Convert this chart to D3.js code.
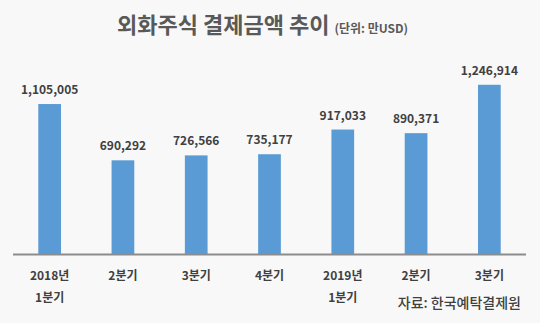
<!DOCTYPE html>
<html><head><meta charset="utf-8">
<script src="https://cdn.jsdelivr.net/npm/d3@7"></script>
<style>
html,body{margin:0;padding:0;background:#f8f8f8;}
svg{display:block;}
text{font-family:"Noto Sans CJK KR","Noto Sans",sans-serif;}
</style></head>
<body>
<script>
const categories = ["2018년|1분기","2분기","3분기","4분기","2019년|1분기","2분기","3분기"];
const values = [1105005, 690292, 726566, 735177, 917033, 890371, 1246914];
const title = "외화주식 결제금액 추이";
const unit = "(단위: 만USD)";
const source = "자료: 한국예탁결제원";

const W = 540, H = 323;
const svg = d3.select("body").append("svg").attr("width", W).attr("height", H);
svg.append("rect").attr("width", W).attr("height", H).attr("fill", "#f8f8f8");

const x = d3.scaleBand().domain(d3.range(categories.length)).range([13, 526]).paddingInner(0.69).paddingOuter(0.345);
const y = d3.scaleLinear().domain([0, 1400000]).range([254, 64]);

const t = svg.append("text").attr("x", 117).attr("y", 33).attr("fill", "#595959");
t.append("tspan").attr("font-size", 22).attr("font-weight", "bold").text(title);
t.append("tspan").attr("dx", 5).attr("font-size", 12).attr("font-weight", "bold").text(unit);

svg.selectAll("rect.bar").data(values).join("rect").attr("class", "bar")
  .attr("x", (d, i) => x(i)).attr("width", x.bandwidth())
  .attr("y", d => y(d)).attr("height", d => y(0) - y(d))
  .attr("fill", "#5b9bd5");

svg.selectAll("text.val").data(values).join("text").attr("class", "val")
  .attr("x", (d, i) => x(i) + x.bandwidth() / 2).attr("y", d => y(d) - 10)
  .attr("text-anchor", "middle").attr("font-size", 12).attr("font-weight", "bold")
  .attr("fill", "#404040").text(d3.format(","));

svg.append("line").attr("x1", 13).attr("x2", 526).attr("y1", y(0) + 0.5).attr("y2", y(0) + 0.5)
  .attr("stroke", "#8c8c8c").attr("stroke-width", 1.8);

categories.forEach((c, i) => {
  const lines = c.split("|");
  lines.forEach((l, j) => {
    svg.append("text").attr("x", x(i) + x.bandwidth() / 2).attr("y", 280 + j * 22)
      .attr("text-anchor", "middle").attr("font-size", 12).attr("font-weight", "bold")
      .attr("fill", "#404040").text(l);
  });
});

svg.append("text").attr("x", 521).attr("y", 308).attr("text-anchor", "end")
  .attr("font-size", 14).attr("font-weight", 500).attr("fill", "#404040").text(source);
</script>
</body></html>
